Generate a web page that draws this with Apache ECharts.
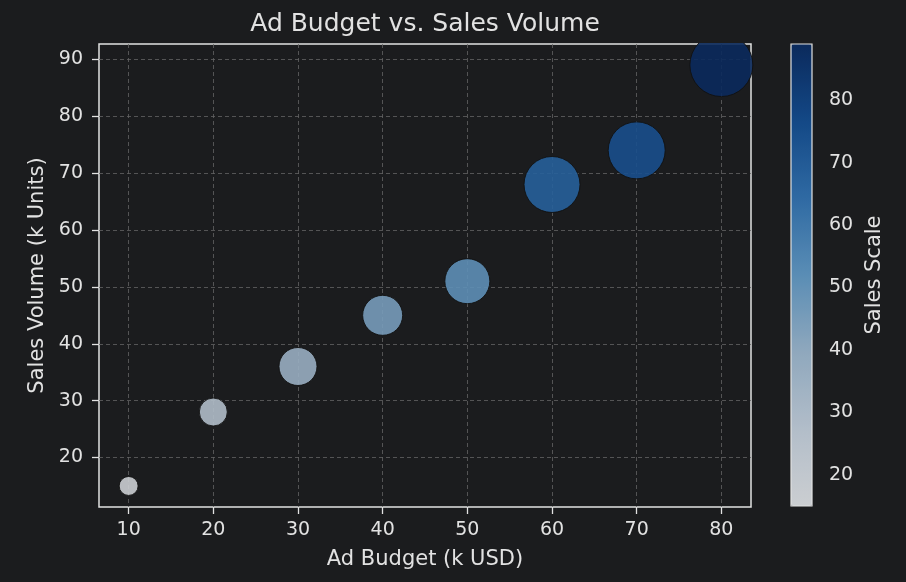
<!DOCTYPE html>
<html>
<head>
<meta charset="utf-8">
<script src="https://cdn.jsdelivr.net/npm/echarts@6/dist/echarts.min.js"></script>
<style>
  html, body { margin: 0; padding: 0; background: #1b1c1e; }
  #main { width: 906px; height: 582px; }
</style>
</head>
<body>
<div id="main"></div>
<script>
// data
var adBudget = [10, 20, 30, 40, 50, 60, 70, 80];
var salesVolume = [15, 28, 36, 45, 51, 68, 74, 89];
var bubbleWeight = [90, 196, 361, 400, 506, 784, 812, 992];
var xTicks = [10, 20, 30, 40, 50, 60, 70, 80];
var yTicks = [20, 30, 40, 50, 60, 70, 80, 90];
var scaleTicks = [20, 30, 40, 50, 60, 70, 80];

var bg = '#1b1c1e';
var fg = '#e2e2e2';
var font = 'DejaVu Sans';

var points = adBudget.map(function (b, i) {
    return [b, salesVolume[i], bubbleWeight[i]];
});

var tickStyle = { show: true, length: 7, lineStyle: { color: fg, width: 1.3 } };
var gridLine = { show: true, lineStyle: { color: '#636363', type: [4, 3], width: 0.8 } };

var myChart = echarts.init(document.getElementById('main'));
myChart.setOption({
    backgroundColor: bg,
    animation: false,
    textStyle: { fontFamily: font, color: fg },
    title: {
        text: 'Ad Budget vs. Sales Volume',
        left: 420, top: 7, textAlign: 'center',
        textStyle: { color: fg, fontSize: 25, fontWeight: 'normal', fontFamily: font },
        z: 200
    },
    grid: [
        { left: 99, top: 44, width: 652, height: 463, show: true, borderColor: fg, borderWidth: 1.5, backgroundColor: 'transparent' },
        { left: 791, top: 44, width: 21, height: 462, show: true, borderColor: fg, borderWidth: 1.2, backgroundColor: 'transparent', z: 5 }
    ],
    xAxis: [{
        type: 'value', gridIndex: 0, min: 6.5, max: 83.5,
        name: 'Ad Budget (k USD)', nameLocation: 'middle', nameGap: 42,
        nameTextStyle: { color: fg, fontSize: 21, fontFamily: font },
        axisLine: { show: false },
        axisTick: Object.assign({ customValues: xTicks }, tickStyle),
        axisLabel: { color: fg, fontSize: 19, margin: 14, customValues: xTicks },
        splitLine: gridLine
    }, {
        type: 'value', gridIndex: 1, min: 0, max: 1, show: false
    }],
    yAxis: [{
        type: 'value', gridIndex: 0, min: 11.3, max: 92.7,
        name: 'Sales Volume (k Units)', nameLocation: 'middle', nameGap: 51,
        nameTextStyle: { color: fg, fontSize: 21, fontFamily: font },
        axisLine: { show: false },
        axisTick: Object.assign({ customValues: yTicks }, tickStyle),
        axisLabel: { color: fg, fontSize: 19, margin: 16, customValues: yTicks },
        splitLine: gridLine
    }, {
        type: 'value', gridIndex: 1, position: 'right',
        min: salesVolume[0], max: salesVolume[salesVolume.length - 1],
        name: 'Sales Scale', nameLocation: 'middle', nameGap: 52, nameRotate: 90,
        nameTextStyle: { color: fg, fontSize: 21, fontFamily: font },
        axisLine: { show: false },
        axisTick: Object.assign({ customValues: scaleTicks }, tickStyle),
        axisLabel: { color: fg, fontSize: 19, margin: 17, customValues: scaleTicks },
        splitLine: { show: false }
    }],
    visualMap: {
        type: 'continuous', seriesIndex: 0, dimension: 1,
        min: salesVolume[0], max: salesVolume[salesVolume.length - 1],
        left: 791, top: 44, itemWidth: 21, itemHeight: 462,
        padding: 0, text: null, showLabel: false, calculable: false, hoverLink: false,
        inRange: { color: ['#cbced1', '#b2bdc9', '#8fa8bd', '#5a8db5', '#2f6aa3', '#134886', '#0b2a5c'] }
    },
    graphic: [{
        type: 'rect', z: 100,
        shape: { x: 650, y: 20, width: 130, height: 23 },
        style: { fill: bg }
    }],
    series: [{
        type: 'scatter', xAxisIndex: 0, yAxisIndex: 0,
        data: points,
        symbolSize: function (v) { return 2 * Math.sqrt(v[2]); },
        itemStyle: { opacity: 0.9, borderColor: '#111', borderWidth: 1 }
    }]
});
</script>
</body>
</html>
